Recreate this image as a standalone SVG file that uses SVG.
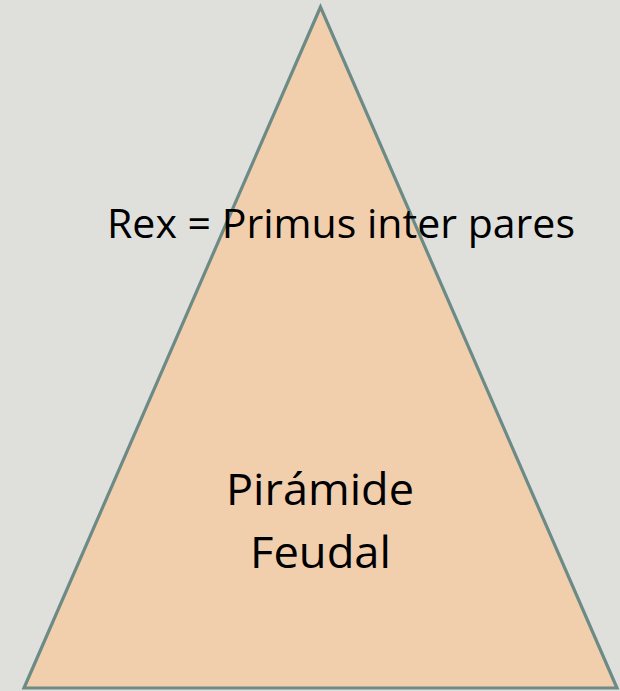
<svg xmlns="http://www.w3.org/2000/svg" width="620" height="691" viewBox="0 0 620 691">
<style>
.t{font-family:"Open Sans","Liberation Sans",sans-serif;fill:#000;}
</style>
<rect width="620" height="691" fill="#dfe0dc"/>
<g id="pyramid">
<polygon points="320.5,7 24,688 617,688" fill="#f1cfad" stroke="#6c8a86" stroke-width="3.2" stroke-linejoin="miter"/>
<text class="t" x="226" y="505" font-size="44" textLength="188" lengthAdjust="spacingAndGlyphs">Pirámide</text>
<text class="t" x="250" y="568" font-size="44" textLength="141" lengthAdjust="spacingAndGlyphs">Feudal</text>
</g>
<g id="label">
<text class="t" x="107" y="238" font-size="41" textLength="468" lengthAdjust="spacingAndGlyphs">Rex = Primus inter pares</text>
</g>
</svg>
